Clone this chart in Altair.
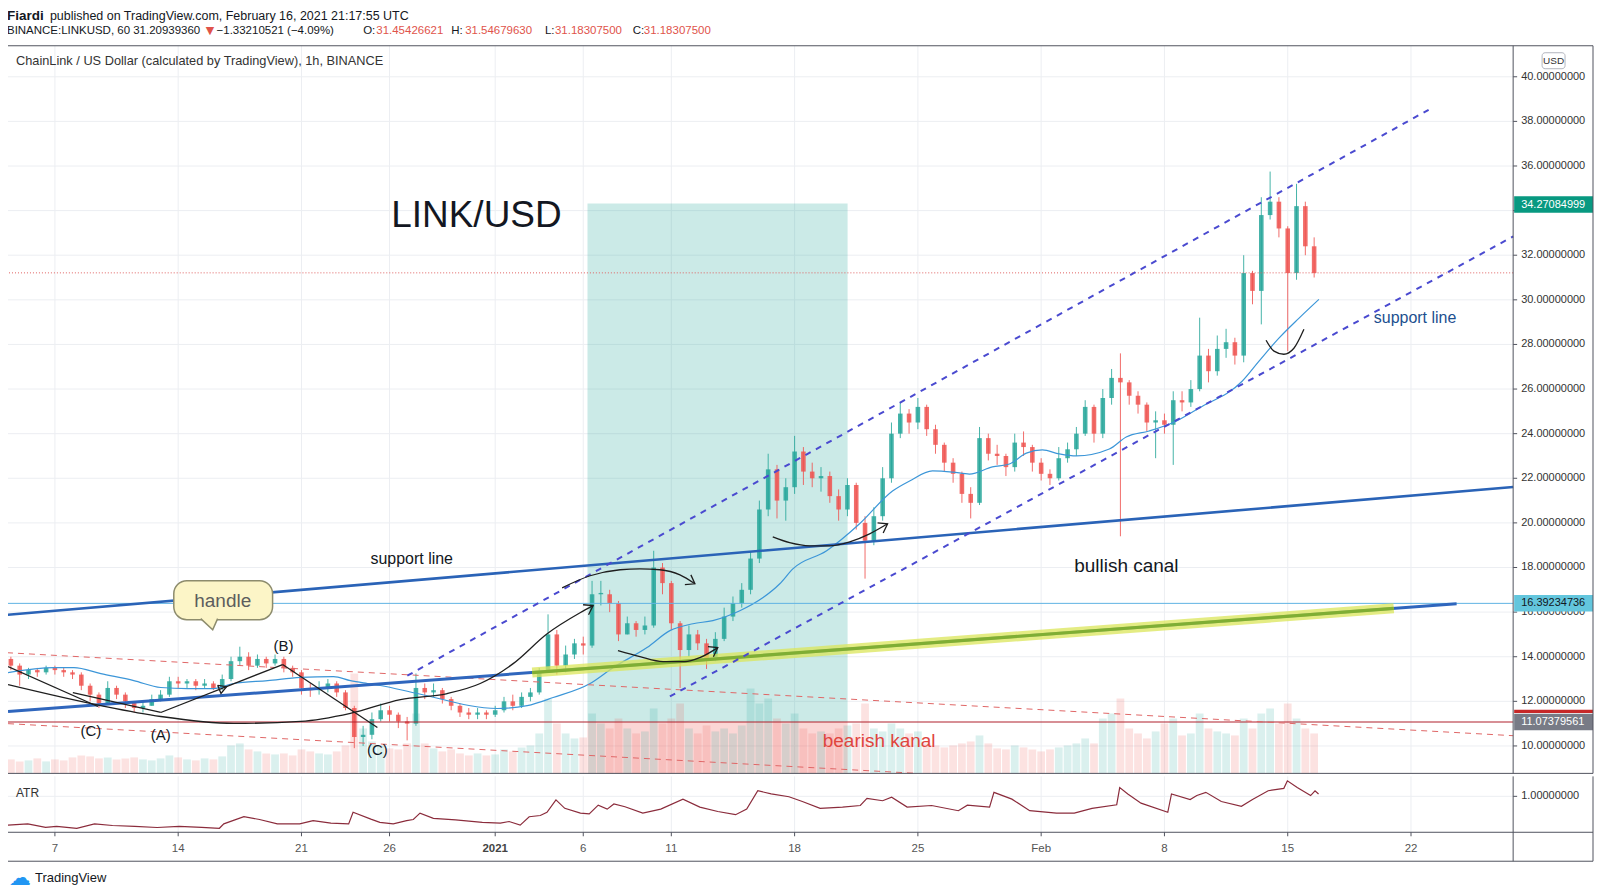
import altair as alt
import pandas as pd

# ---------------- values ----------------
# x is measured in days since 1 Dec 2020 00:00 UTC
tick_days = [6, 13, 20, 25, 31, 36, 41, 48, 55, 62, 69, 76, 83]
tick_labels = ["7", "14", "21", "26", "2021", "6", "11", "18", "25", "Feb", "8", "15", "22"]
price_ticks = [10, 12, 14, 16, 18, 20, 22, 24, 26, 28, 30, 32, 34, 36, 38, 40]
atr_ticks = [1.0]

day_domain = [3.28, 88.8]
price_domain = [8.77, 41.39]
atr_domain = [0.1, 1.5]
vol_domain = [0, 140]

# 12-hour candles (start day, step in days)
candle_start = 3.25
candle_step = 0.5
first_open = 13.9
candle_close = [
    13.6, 13.2, 13.4, 13.3, 13.5, 13.4, 13.3, 13.2, 12.7, 12.3,
    11.9, 12.6, 12.3, 12.0, 11.7, 11.8, 12.1, 12.3, 12.9, 12.8,
    12.9, 12.7, 12.8, 12.6, 13.0, 13.8, 14.0, 13.6, 13.9, 13.7,
    13.9, 13.5, 13.3, 12.6, 12.5, 12.6, 12.8, 12.4, 11.7, 10.4,
    10.5, 11.2, 11.6, 11.4, 11.1, 11.0, 12.6, 12.4, 12.5, 12.1,
    11.8, 11.5, 11.4, 11.5, 11.4, 11.6, 12.0, 11.8, 12.2, 12.4,
    13.3, 15.0, 13.6, 14.1, 14.6, 14.5, 16.8, 16.8, 16.4, 15.0,
    15.5, 15.2, 15.4, 18.0, 17.3, 15.5, 14.3, 15.0, 14.6, 13.9,
    14.8, 15.8, 16.4, 17.0, 18.4, 20.6, 22.4, 21.0, 21.6, 23.2,
    22.3, 22.0, 22.1, 21.2, 20.6, 21.7, 20.0, 19.2, 20.3, 22.0,
    24.0, 24.9, 24.5, 25.2, 24.2, 23.5, 22.7, 22.2, 21.3, 20.9,
    23.8, 23.1, 23.0, 22.5, 23.6, 23.4, 22.7, 22.2, 22.0, 22.9,
    23.3, 24.0, 25.2, 24.0, 25.6, 26.5, 26.3, 25.7, 25.3, 24.5,
    24.6, 24.4, 25.5, 25.4, 26.0, 27.5, 26.8, 27.8, 28.1, 27.5,
    31.2, 30.4, 33.8, 34.4, 33.2, 31.2, 34.2, 32.4, 31.2,
]
candle_high = [
    14.0, 13.7, 13.5, 13.5, 13.6, 13.6, 13.5, 13.4, 13.3, 12.8,
    12.4, 12.9, 12.7, 12.4, 12.0, 12.0, 12.3, 12.5, 13.1, 13.1,
    13.0, 13.0, 13.0, 12.9, 13.2, 14.0, 14.45, 14.2, 14.1, 14.0,
    14.1, 14.0, 13.6, 13.4, 12.8, 12.9, 13.0, 12.9, 12.5, 11.8,
    10.9, 11.5, 11.9, 11.8, 11.5, 11.3, 13.25, 12.8, 12.8, 12.6,
    12.2, 11.9, 11.7, 11.7, 11.6, 11.8, 12.2, 12.3, 12.4, 12.6,
    13.5, 15.9, 15.2, 14.5, 14.8, 14.9, 17.4, 17.4, 17.0, 16.5,
    15.8, 15.6, 15.8, 18.75, 18.2, 17.4, 15.6, 15.4, 15.2, 14.8,
    15.1, 16.2, 16.7, 17.3, 18.7, 21.0, 23.1, 22.6, 22.0, 23.9,
    23.4, 22.7, 22.5, 22.3, 21.5, 22.0, 21.8, 20.3, 20.7, 22.5,
    24.5, 25.4, 25.1, 25.6, 25.3, 24.4, 23.6, 22.9, 22.3, 21.6,
    24.3, 24.0, 23.5, 23.1, 24.0, 24.1, 23.5, 22.9, 22.4, 23.4,
    23.6, 24.3, 25.5, 25.3, 26.0, 26.9, 27.6, 26.4, 25.9, 25.4,
    25.0, 24.9, 25.9, 25.9, 26.4, 29.2, 27.8, 28.4, 28.7, 28.3,
    32.0, 31.3, 34.6, 35.75, 34.6, 33.3, 35.2, 34.4, 32.8,
]
candle_low = [
    13.4, 12.7, 13.0, 13.1, 13.2, 13.2, 13.1, 13.0, 12.5, 12.0,
    11.7, 11.9, 12.1, 11.7, 11.5, 11.5, 11.8, 12.0, 12.2, 12.6,
    12.6, 12.5, 12.6, 12.5, 12.5, 12.9, 13.6, 13.4, 13.5, 13.5,
    13.6, 13.3, 13.1, 12.3, 12.2, 12.3, 12.4, 12.2, 11.6, 9.9,
    10.0, 10.3, 11.1, 11.1, 10.8, 10.25, 10.9, 12.1, 12.2, 11.9,
    11.6, 11.3, 11.2, 11.2, 11.2, 11.3, 11.5, 11.6, 11.7, 12.0,
    12.3, 13.3, 13.2, 13.3, 13.9, 14.1, 14.4, 16.3, 16.0, 14.7,
    15.0, 14.9, 15.0, 15.3, 16.8, 15.2, 12.6, 14.0, 14.3, 13.45,
    13.8, 14.7, 15.6, 16.2, 16.8, 18.2, 20.3, 20.2, 20.1, 21.3,
    21.7, 21.6, 21.4, 20.9, 20.1, 20.3, 19.7, 17.5, 19.0, 20.1,
    21.8, 23.8, 24.0, 24.2, 23.9, 23.1, 22.3, 21.8, 20.9, 20.2,
    20.8, 22.8, 22.6, 22.1, 22.3, 23.0, 22.3, 21.9, 21.7, 21.9,
    22.7, 23.0, 23.9, 23.6, 23.8, 25.3, 19.4, 25.3, 24.9, 24.1,
    22.9, 24.0, 22.6, 25.0, 25.2, 25.9, 26.3, 26.6, 27.4, 27.1,
    27.2, 29.8, 28.9, 33.6, 32.8, 27.7, 30.9, 32.0, 31.0,
]
candle_volume = [
    14, 12, 13, 15, 12, 14, 13, 16, 18, 17,
    15, 16, 14, 15, 16, 14, 13, 15, 18, 16,
    14, 13, 15, 14, 17, 28, 30, 24, 22, 20,
    19, 20, 18, 24, 22, 20, 19, 22, 28, 100,
    45, 32, 28, 25, 24, 30, 60, 30, 25, 22,
    24, 20, 18, 20, 18, 19, 24, 22, 26, 28,
    40, 75, 50, 40, 35, 36, 60, 50, 45, 55,
    45, 40, 42, 65, 50, 55, 70, 45, 40, 48,
    42, 45, 40, 48, 85, 70, 75, 55, 50, 60,
    45, 40, 42, 40, 45, 48, 50, 70, 45, 42,
    50, 45, 40, 42, 30, 28, 26, 28, 30, 32,
    38, 30, 25, 24, 28, 26, 24, 22, 24, 26,
    28, 30, 35, 30, 55, 60, 75, 45, 40, 35,
    42, 50, 55, 38, 40, 60, 45, 42, 40, 38,
    55, 45, 60, 65, 50, 70, 55, 45, 40,
]

ma_days = [3.34, 5.94, 7.08, 8.61, 10.48, 12.01, 13.54, 15.01, 16.15, 18.08,
           19.95, 21.82, 22.78, 23.75, 24.48, 26.58, 31.12, 32.82, 34.29, 36.39,
           37.69, 39.62, 40.92, 42.23, 43.36, 44.89, 46.19, 47.16, 47.90, 49.82,
           51.69, 53.56, 54.53, 55.83, 56.97, 57.93, 59.23, 60.20, 61.16, 62.07,
           63.03, 64.00, 65.87, 66.83, 68.13, 69.66, 70.97, 73.41, 74.37, 75.50,
           76.63, 77.77]
ma_prices = [13.29, 13.51, 13.51, 13.24, 12.93, 12.62, 12.57, 12.57, 12.80, 12.93,
             13.07, 13.11, 12.93, 12.80, 12.71, 12.35, 11.68, 11.81, 12.17, 12.80,
             13.51, 14.41, 15.17, 15.48, 15.62, 16.06, 16.64, 17.27, 17.94, 18.75,
             19.96, 21.43, 21.88, 22.33, 22.28, 22.19, 22.51, 22.64, 23.13, 23.27,
             23.09, 23.00, 23.31, 23.85, 24.12, 24.56, 25.15, 26.35, 27.25, 28.28,
             29.17, 30.02]

atr_days = [3.32, 4.46, 5.47, 6.10, 7.24, 8.25, 9.27, 10.53, 11.80, 13.06,
            14.33, 15.34, 15.59, 16.73, 17.62, 18.63, 19.90, 20.66, 21.67, 22.68,
            22.93, 23.94, 24.45, 25.21, 25.97, 26.35, 26.73, 27.49, 28.75, 30.27,
            31.29, 31.79, 32.42, 32.93, 33.56, 33.94, 34.45, 34.95, 35.84, 36.34,
            36.85, 37.36, 37.74, 38.37, 39.38, 40.40, 41.66, 42.62, 43.64, 44.65,
            45.28, 45.91, 46.67, 47.68, 48.44, 49.45, 50.72, 51.73, 52.11, 53.00,
            53.51, 54.39, 55.78, 57.30, 57.81, 59.07, 59.32, 60.34, 61.35, 62.87,
            63.88, 64.89, 66.29, 66.46, 66.92, 67.67, 69.19, 69.40, 70.46, 70.84,
            71.35, 72.23, 73.37, 74.00, 74.89, 75.78, 75.98, 76.54, 77.30, 77.55,
            77.75]
atr_values = [0.28, 0.31, 0.225, 0.25, 0.20, 0.31, 0.27, 0.25, 0.22, 0.25,
              0.225, 0.20, 0.31, 0.49, 0.42, 0.31, 0.31, 0.39, 0.33, 0.31,
              0.60, 0.43, 0.35, 0.31, 0.39, 0.42, 0.58, 0.45, 0.41, 0.35,
              0.33, 0.37, 0.28, 0.49, 0.52, 0.60, 0.91, 0.70, 0.58, 0.56,
              0.78, 0.68, 0.81, 0.74, 0.58, 0.68, 0.93, 0.73, 0.62, 0.54,
              0.68, 1.14, 1.06, 0.99, 0.87, 0.70, 0.73, 0.77, 0.95, 0.89,
              0.98, 0.73, 0.77, 0.64, 0.78, 0.73, 1.10, 0.93, 0.64, 0.58,
              0.58, 0.70, 0.79, 1.22, 1.06, 0.83, 0.60, 1.06, 0.92, 1.02,
              1.10, 0.87, 0.75, 0.92, 1.14, 1.20, 1.39, 1.22, 1.02, 1.14,
              1.06]

last_price = 31.20939360
blue_level = 16.39234736
red_level = 11.07379561
target_level = 34.27084999
hidden_red_label = 11.55

# long-position box (teal = target zone, pink = stop zone)
position_days = [36.24, 51.01]
position_target = 34.32

# drawn lines: (days, prices)
upper_support = ([3.28, 88.8], [15.88, 21.61])
lower_support = ([3.34, 85.59], [11.54, 16.38])
green_part = ([33.1, 82.02], [13.29, 16.17])
bear_upper = ([3.28, 88.8], [14.18, 10.46])
bear_lower = ([3.34, 54.96], [11.0, 8.77])
bull_upper = ([26.01, 84.0], [13.15, 38.52])
bull_lower = ([40.92, 88.8], [12.22, 32.84])

curves = {
    "cup": ([3.34, 8.61, 12.01, 16.15, 19.95, 22.78, 25.62, 28.28, 30.15, 32.02, 33.95, 35.82, 36.56],
            [12.75, 11.81, 11.32, 11.01, 11.10, 11.46, 12.08, 12.35, 12.80, 13.69, 15.03, 15.97, 16.29]),
    "arch": ([34.80, 36.39, 38.09, 39.22, 40.35, 41.49, 42.34],
             [17.09, 17.63, 17.90, 17.94, 17.90, 17.67, 17.27]),
    "smile_a": ([37.97, 39.22, 40.53, 41.77, 42.62, 43.64],
                [14.27, 14.00, 13.78, 13.78, 13.96, 14.41]),
    "smile_b": ([46.76, 47.72, 48.86, 49.99, 51.13, 52.26, 53.28],
                [19.37, 19.11, 18.97, 18.97, 19.15, 19.51, 19.96]),
    "smile_c": ([74.77, 75.22, 75.78, 76.35, 76.92],
                [28.19, 27.70, 27.56, 27.83, 28.68]),
}
straights = {
    "wave_1": ([3.34, 8.44], [13.56, 11.77]),
    "wave_2": ([7.02, 12.01], [12.39, 11.50]),
    "wave_3": ([12.01, 18.93], [11.50, 13.65]),
    "wave_4": ([18.93, 24.31], [13.65, 10.83]),
    "cursor": ([15.24, 15.75, 15.43, 15.24], [12.72, 12.66, 12.35, 12.72]),
    "cup_arrow": ([35.99, 36.56, 36.30], [16.33, 16.29, 15.88]),
    "arch_arrow": ([41.77, 42.34, 42.11], [17.23, 17.27, 17.67]),
    "smile_a_arrow": ([43.08, 43.64, 43.39], [14.45, 14.41, 14.00]),
    "smile_b_arrow": ([52.71, 53.28, 53.03], [20.00, 19.96, 19.55]),
}

bubble_box = ([12.75, 18.36], [15.66, 17.41])
bubble_tail = ([14.28, 14.96, 15.24], [15.71, 15.21, 15.71])
bubble_text = ("handle", 15.53, 16.51)

notes = [
    ("LINK/USD", 25.1, 33.74),
    ("support line", 23.92, 18.39),
    ("bullish canal", 63.88, 18.08),
    ("support line", 80.89, 29.17),
    ("bearish kanal", 49.6, 10.2),
]
wave_labels = [("(C)", 8.04, 10.65), ("(A)", 12.01, 10.47), ("(B)", 18.98, 14.50), ("(C)", 24.31, 9.80)]

header_1 = ["Fiardi", " published on TradingView.com, February 16, 2021 21:17:55 UTC"]
header_2 = ["BINANCE:LINKUSD, 60 31.20939360", "\u25bc", "\u22121.33210521 (\u22124.09%)", "O:", "31.45426621",
            "H:", "31.54679630", "L:", "31.18307500", "C:", "31.18307500"]
chart_title = "ChainLink / US Dollar (calculated by TradingView), 1h, BINANCE"

# ---------------- styling ----------------
W, HM, HA = 1509, 729, 56
RIGHT = 1589
BOTTOM = 85
FONT = "Liberation Sans"
GREEN = "#26a69a"
RED = "#ef5350"
GRID = "#eceef2"
FRAME = "#50535e"

one = pd.DataFrame({"k": [0]})
xscale = alt.Scale(domain=day_domain, zero=False, nice=False)
pscale = alt.Scale(domain=price_domain, zero=False, nice=False)
vscale = alt.Scale(domain=vol_domain, range=[HM, HM - 140], zero=False, nice=False)
ascale = alt.Scale(domain=atr_domain, zero=False, nice=False)


def X(f):
    return alt.X(f, type="quantitative", scale=xscale, axis=None)


def PY(f):
    return alt.Y(f, type="quantitative", scale=pscale, axis=None)


def AY(f):
    return alt.Y(f, type="quantitative", scale=ascale, axis=None)


def line_df(d):
    rows = []
    for name, (ds, ps) in d.items():
        for k, (a, b) in enumerate(zip(ds, ps)):
            rows.append({"seg": name, "ord": k, "day": a, "price": b})
    return pd.DataFrame(rows)


def dline(pair, **mark):
    df = pd.DataFrame({"day": pair[0], "price": pair[1]})
    return alt.Chart(df).mark_line(**mark).encode(x=X("day"), y=PY("price"))


def ptext(txt, x, y, size=12, color="#131722", weight="normal", align="left", font=FONT):
    return alt.Chart(one).mark_text(text=txt, align=align, baseline="middle", fontSize=size,
                                    color=color, fontWeight=weight, font=font).encode(
        x=alt.value(x), y=alt.value(y))


def dtext(txt, day, price, size=15, color="#131722", align="left"):
    df = pd.DataFrame({"day": [day], "price": [price]})
    return alt.Chart(df).mark_text(text=txt, align=align, baseline="middle", fontSize=size,
                                   color=color, font=FONT).encode(x=X("day"), y=PY("price"))


def prule(x, x2, y, y2, color=FRAME, width=1):
    return alt.Chart(one).mark_rule(color=color, strokeWidth=width).encode(
        x=alt.value(x), x2=alt.value(x2), y=alt.value(y), y2=alt.value(y2))


# ---------------- data frames ----------------
n = len(candle_close)
cdf = pd.DataFrame({
    "t": [candle_start + candle_step * i for i in range(n)],
    "open": [first_open] + candle_close[:-1],
    "high": candle_high,
    "low": candle_low,
    "close": candle_close,
    "volume": candle_volume,
})
updown = alt.condition("datum.close >= datum.open", alt.value(GREEN), alt.value(RED))
ticks_df = pd.DataFrame({"day": tick_days, "label": tick_labels})
pticks_df = pd.DataFrame({"price": price_ticks})

# ---------------- main panel ----------------
box = pd.DataFrame({"d1": [position_days[0]], "d2": [position_days[1]],
                    "p1": [red_level], "p2": [position_target], "p0": [price_domain[0]]})
teal = alt.Chart(box).mark_rect(color=GREEN, opacity=0.24).encode(x=X("d1"), x2="d2", y=PY("p1"), y2="p2")
pink = alt.Chart(box).mark_rect(color=RED, opacity=0.24).encode(x=X("d1"), x2="d2", y=PY("p0"), y2="p1")
vgrid = alt.Chart(ticks_df).mark_rule(color=GRID).encode(x=X("day"))
hgrid = alt.Chart(pticks_df).mark_rule(color=GRID).encode(y=PY("price"))
bg = alt.layer(vgrid, hgrid, teal, pink)

vol = alt.Chart(cdf).transform_calculate(
    v1="datum.t + 0.03", v2="datum.t + 0.47", vz="0"
).mark_rect(opacity=0.17).encode(
    x=X("v1"), x2="v2",
    y=alt.Y("volume", type="quantitative", scale=vscale, axis=None), y2="vz:Q",
    color=updown)

wick = alt.Chart(cdf).transform_calculate(tc="datum.t + 0.25").mark_rule(strokeWidth=1, opacity=0.85).encode(
    x=X("tc"), y=PY("low"), y2="high", color=updown)
body = alt.Chart(cdf).transform_calculate(
    b1="datum.t + 0.12", b2="datum.t + 0.38",
    blo="min(datum.open, datum.close)",
    bhi="max(max(datum.open, datum.close), min(datum.open, datum.close) + 0.06)",
).mark_rect(opacity=0.85).encode(x=X("b1"), x2="b2", y=PY("blo"), y2="bhi", color=updown)

ma = alt.Chart(pd.DataFrame({"day": ma_days, "price": ma_prices})).mark_line(
    color="#3c96d8", strokeWidth=1.2, interpolate="monotone").encode(x=X("day"), y=PY("price"))

h_blue = alt.Chart(pd.DataFrame({"price": [blue_level]})).mark_rule(color="#5eb3e4", strokeWidth=1).encode(y=PY("price"))
h_red = alt.Chart(pd.DataFrame({"price": [red_level]})).mark_rule(color="#b0202c", strokeWidth=1.2).encode(y=PY("price"))
h_last = alt.Chart(pd.DataFrame({"price": [last_price]})).mark_rule(
    color="#e06060", strokeWidth=1, strokeDash=[1, 2]).encode(y=PY("price"))

lines = [
    dline(bear_upper, color="#e06666", strokeWidth=1, strokeDash=[6, 5]),
    dline(bear_lower, color="#e06666", strokeWidth=1, strokeDash=[6, 5]),
    dline(upper_support, color="#2a63b7", strokeWidth=2.6),
    dline(lower_support, color="#2f66bd", strokeWidth=3),
    dline(green_part, color="#dbe65a", strokeWidth=10, opacity=0.75),
    dline(green_part, color="#7fae34", strokeWidth=3.2),
    dline(bull_upper, color="#4a4ad0", strokeWidth=2, strokeDash=[6, 6]),
    dline(bull_lower, color="#4a4ad0", strokeWidth=2, strokeDash=[6, 6]),
]
curve_layer = alt.Chart(line_df(curves)).mark_line(color="#1e1e1e", strokeWidth=1.3, interpolate="monotone").encode(
    x=X("day"), y=PY("price"), detail="seg:N", order="ord:Q")
straight_layer = alt.Chart(line_df(straights)).mark_line(color="#1e1e1e", strokeWidth=1.3).encode(
    x=X("day"), y=PY("price"), detail="seg:N", order="ord:Q")

bub = pd.DataFrame({"d1": [bubble_box[0][0]], "d2": [bubble_box[0][1]],
                    "p1": [bubble_box[1][0]], "p2": [bubble_box[1][1]]})
bubble = alt.Chart(bub).mark_rect(cornerRadius=13, fill="#fcf5c7", stroke="#8d8c6d", strokeWidth=1.5).encode(
    x=X("d1"), x2="d2", y=PY("p1"), y2="p2")
tail_df = pd.DataFrame({"day": bubble_tail[0], "price": bubble_tail[1], "top": [bubble_box[1][0] + 0.06] * 3})
tail_fill = alt.Chart(tail_df).mark_area(color="#fcf5c7").encode(x=X("day"), y=PY("top"), y2="price")
tail_line = alt.Chart(tail_df).mark_line(color="#8d8c6d", strokeWidth=1.5).encode(x=X("day"), y=PY("price"))
bubble_txt = dtext(bubble_text[0], bubble_text[1], bubble_text[2], size=19, color="#5d5d5d", align="center")

note_styles = [dict(size=37), dict(size=16), dict(size=19), dict(size=16, color="#1c4f8f"),
               dict(size=19, color="#e0453e")]
note_layers = [dtext(t, d, p, **s) for (t, d, p), s in zip(notes, note_styles)]
wave_layers = [dtext(t, d, p, size=15, align="center") for (t, d, p) in wave_labels]

# right-hand price scale (drawn from the price scale); the label hidden by the
# green price tag in the reference is left out
p_tick = alt.Chart(pticks_df).mark_rule(color=FRAME).encode(x=alt.value(W), x2=alt.value(W + 4), y=PY("price"))
p_label = alt.Chart(pticks_df).transform_filter(
    f"abs(datum.price - {target_level}) > 0.3").mark_text(
    align="left", baseline="middle", fontSize=11, font=FONT, color="#333").encode(
    x=alt.value(W + 8), y=PY("price"), text=alt.Text("price", type="quantitative", format=".8f"))

label_layers = []
for price, fill, tcol in [(target_level, "#089981", "white"), (blue_level, "#63c6dd", "#131722"),
                          (red_level, "#787b86", "white")]:
    ldf = pd.DataFrame({"price": [price]})
    label_layers.append(alt.Chart(ldf).transform_calculate(
        top="datum.price + 0.37", bot="datum.price - 0.37").mark_rect(color=fill).encode(
        x=alt.value(W + 1), x2=alt.value(RIGHT), y=PY("top"), y2="bot"))
    label_layers.append(alt.Chart(ldf).mark_text(align="left", baseline="middle", fontSize=11,
                                                 font=FONT, color=tcol).encode(
        x=alt.value(W + 8), y=PY("price"), text=alt.Text("price", type="quantitative", format=".8f")))
ldf = pd.DataFrame({"price": [hidden_red_label]})
label_layers.insert(4, alt.Chart(ldf).transform_calculate(
    top="datum.price + 0.07", bot="datum.price - 0.07").mark_rect(color="#c62828").encode(
    x=alt.value(W + 1), x2=alt.value(RIGHT), y=PY("top"), y2="bot"))

usd_box = alt.Chart(one).mark_rect(cornerRadius=3, fill="white", stroke="#b2b5be").encode(
    x=alt.value(1538), x2=alt.value(1561), y=alt.value(7), y2=alt.value(23))

header_layers = [
    ptext(header_1[0], 0, -30, size=13.5, weight="bold"),
    ptext(header_1[1], 43, -30, size=12.5),
]
h2_x = [0, 199, 210, 369, 370, 445, 459, 539, 549, 627, 638]
h2_align = ["left", "left", "left", "right", "left", "left", "left", "left", "left", "left", "left"]
h2_red = [False, True, False, False, True, False, True, False, True, False, True]
for txt, x, a, r in zip(header_2, h2_x, h2_align, h2_red):
    header_layers.append(ptext(txt, x, -15, size=(11 if txt == "\u25bc" else 11.5),
                               color=("#e0534a" if r else "#131722"), align=a,
                               font=("DejaVu Sans" if txt == "\u25bc" else FONT)))
header_layers.append(ptext(chart_title, 9, 15, size=12.8, color="#333"))
header_layers.append(usd_box)
header_layers.append(ptext("USD", 1549.5, 15, size=10, color="#333", align="center"))

frame_main = [
    prule(0, RIGHT, 0, 0), prule(0, 0, 0, HM), prule(RIGHT, RIGHT, 0, HM), prule(0, RIGHT, HM, HM),
    prule(W, W, 0, HM),
]

fg = alt.layer(
    wick, body, ma, h_blue, h_red, h_last, *lines, curve_layer, straight_layer,
    bubble, tail_fill, tail_line, bubble_txt, *note_layers, *wave_layers,
    p_tick, p_label, *label_layers, *header_layers, *frame_main,
)

main = alt.layer(bg, vol, fg).resolve_scale(y="independent").properties(width=W, height=HM)

# ---------------- ATR panel ----------------
aticks_df = pd.DataFrame({"atr": atr_ticks})
atr_vgrid = alt.Chart(ticks_df).mark_rule(color=GRID).encode(x=X("day"))
atr_hgrid = alt.Chart(aticks_df).mark_rule(color=GRID).encode(y=AY("atr"))
atr_line = alt.Chart(pd.DataFrame({"day": atr_days, "atr": atr_values})).mark_line(
    color="#8b2c3c", strokeWidth=1.2).encode(x=X("day"), y=AY("atr"))
a_tick = alt.Chart(aticks_df).mark_rule(color=FRAME).encode(x=alt.value(W), x2=alt.value(W + 4), y=AY("atr"))
a_label = alt.Chart(aticks_df).mark_text(align="left", baseline="middle", fontSize=11, font=FONT,
                                         color="#333").encode(
    x=alt.value(W + 8), y=AY("atr"), text=alt.Text("atr", type="quantitative", format=".8f"))
x_tick = alt.Chart(ticks_df).mark_rule(color=FRAME).encode(x=X("day"), y=alt.value(HA), y2=alt.value(HA + 4))
x_label = alt.Chart(ticks_df).transform_filter("datum.label != '2021'").mark_text(
    align="center", baseline="middle", fontSize=11.5, font=FONT, color="#555").encode(
    x=X("day"), y=alt.value(HA + 17), text="label:N")
x_label_year = alt.Chart(ticks_df).transform_filter("datum.label == '2021'").mark_text(
    align="center", baseline="middle", fontSize=11.5, font=FONT, color="#444", fontWeight="bold").encode(
    x=X("day"), y=alt.value(HA + 17), text="label:N")

frame_atr = [
    prule(0, 0, 0, BOTTOM), prule(RIGHT, RIGHT, 0, BOTTOM), prule(0, RIGHT, HA, HA),
    prule(0, RIGHT, BOTTOM, BOTTOM), prule(W, W, 0, BOTTOM),
]
footer = [
    ptext("\u2601", 2, 102, size=22, color="#2196f3", font="DejaVu Sans"),
    ptext("TradingView", 28, 102, size=13, color="#131722"),
]
atr = alt.layer(atr_vgrid, atr_hgrid, atr_line, a_tick, a_label, x_tick, x_label, x_label_year,
                ptext("ATR", 9, 17, size=12, color="#333"),
                *frame_atr, *footer).properties(width=W, height=HA)

chart = alt.vconcat(main, atr, spacing=0).properties(
    padding={"left": -7, "top": 0, "right": 0, "bottom": 0}, background="white").configure_view(stroke=None)

chart.save("out.html", embed_options={"renderer": "svg", "actions": False})
